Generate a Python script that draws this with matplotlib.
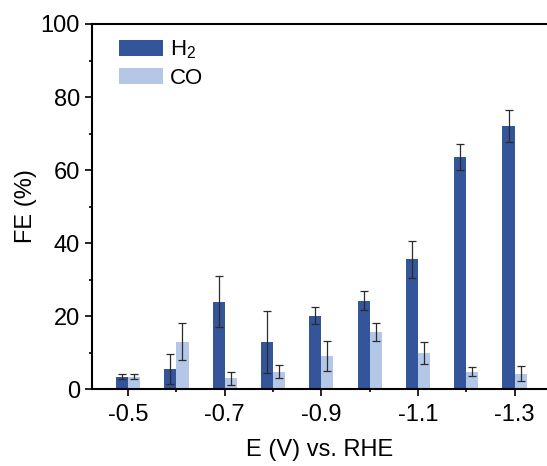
import numpy as np
import matplotlib
matplotlib.use("Agg")
from matplotlib import pyplot as plt

plt.rcParams['font.family'] = ['Liberation Sans', 'DejaVu Sans']
plt.rcParams['mathtext.fontset'] = 'custom'
plt.rcParams['mathtext.rm'] = 'Liberation Sans'

potentials = [-0.5, -0.6, -0.7, -0.8, -0.9, -1.0, -1.1, -1.2, -1.3]
tick_labels = ['-0.5', '', '-0.7', '', '-0.9', '', '-1.1', '', '-1.3']

h2_fe = [3.4, 5.6, 23.9, 12.9, 20.1, 24.2, 35.5, 63.6, 72.1]
h2_err = [0.7, 4.1, 7.0, 8.4, 2.4, 2.6, 5.1, 3.6, 4.4]
co_fe = [3.4, 13.0, 3.0, 4.8, 9.1, 15.6, 9.9, 4.8, 4.2]
co_err = [0.7, 5.0, 1.8, 1.8, 4.1, 2.5, 3.1, 1.3, 2.0]

h2_color = '#34559a'
co_color = '#b4c7e7'

fig = plt.figure(figsize=(5.47, 4.66), dpi=100)
ax = fig.add_axes([0.168, 0.165, 0.831, 0.7835])

x = np.arange(len(potentials))
w = 0.25
ekw = dict(ecolor='#2b2b2b', elinewidth=0.9, capsize=2.6, capthick=0.9)

ax.bar(x - w/2, h2_fe, w, yerr=h2_err, color=h2_color, label=r'H$_\mathrm{2}$', error_kw=ekw)
ax.bar(x + w/2, co_fe, w, yerr=co_err, color=co_color, label='CO', error_kw=ekw)

ax.set_xlim(-0.75, 8.66)
ax.set_ylim(0, 100)
ax.set_xticks(x[::2])
ax.set_xticklabels(tick_labels[::2])
ax.set_xticks(x[1::2], minor=True)
ax.set_yticks(np.arange(0, 101, 20))
ax.set_yticks(np.arange(10, 100, 20), minor=True)

ax.tick_params(axis='both', which='major', direction='out', length=5, width=1.2, labelsize=17)
ax.tick_params(axis='both', which='minor', direction='out', length=2.5, width=1.2)
ax.tick_params(axis='x', which='major', pad=6)

for side in ['left', 'bottom', 'top']:
    ax.spines[side].set_linewidth(1.5)
ax.spines['right'].set_visible(False)

ax.set_xlabel('E (V) vs. RHE', fontsize=17, labelpad=9)
ax.set_ylabel('FE (%)', fontsize=17, labelpad=3)

ax.legend(loc='upper left', bbox_to_anchor=(0.015, 1.015), frameon=False, fontsize=16,
          handlelength=2.0, handleheight=0.75, handletextpad=0.3, labelspacing=0.3)

fig.savefig('out.png', dpi=100)
